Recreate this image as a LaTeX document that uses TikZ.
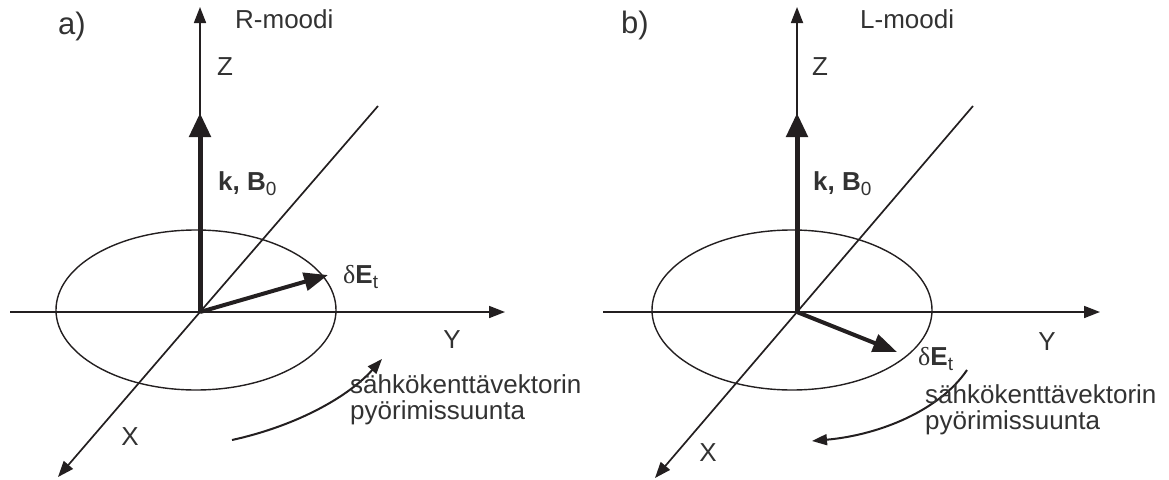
\documentclass[tikz,border=0pt]{standalone}
\usepackage{fontspec}
\setmainfont{Liberation Sans}
\newfontfamily\deltafont{Liberation Serif}
\usetikzlibrary{arrows.meta}
\definecolor{ink}{RGB}{35,31,32}
\definecolor{txt}{RGB}{50,50,50}
\begin{document}
\begin{tikzpicture}[x=1pt,y=-1pt,
  axis/.style={draw=ink,line width=1.7pt,-{Triangle[length=16pt,width=12pt]}},
  plainaxis/.style={draw=ink,line width=1.7pt},
  thickvec/.style={draw=ink,line width=5pt,-{Triangle[length=24pt,width=21pt]}},
  evec/.style={draw=ink,line width=4pt,-{Triangle[length=24pt,width=18pt]}},
  rotarrow/.style={draw=ink,line width=2pt,-{Triangle[length=15pt,width=11pt]}},
  ellip/.style={draw=ink,line width=1.4pt},
  lbl/.style={text=txt,inner sep=0pt,font=\fontsize{26}{27}\selectfont},
  panel/.style={text=txt,inner sep=0pt,font=\fontsize{31}{31}\selectfont},
  note/.style={text=txt,inner sep=0pt,align=left,anchor=base west,font=\fontsize{26}{26}\selectfont},
]
\useasboundingbox (0,0) rectangle (1169,479);

% ---------------- panel a ----------------
\coordinate (Oa) at (200,312);
\coordinate (Za) at (200,7);
\coordinate (Ka) at (200,113);
\coordinate (YLa) at (10,312);
\coordinate (YRa) at (505,312);
\coordinate (XTa) at (378,106);
\coordinate (XBa) at (58,477);
\coordinate (Ea) at (328,275);
\coordinate (Ca) at (196,310);
\coordinate (RSa) at (232,440);
\coordinate (REa) at (382,359);

\draw[ellip] (Ca) ellipse [x radius=140, y radius=80];
\draw[axis] (Oa) -- (Za);
\draw[axis] (YLa) -- (YRa);
\draw[plainaxis] (XTa) -- (Oa);
\draw[axis] (Oa) -- (XBa);
\draw[thickvec] (Oa) -- (Ka);
\draw[evec] (Oa) -- (Ea);
\draw[rotarrow] (RSa) .. controls (300,425) and (350,395) .. (REa);

\node[panel,anchor=base west] (pa) at (58,34) {a)};
\node[lbl,anchor=base west] (ma) at (235,28) {R-moodi};
\node[lbl] (za) at (225,67) {Z};
\node[lbl] (ya) at (452,340) {Y};
\node[lbl] (xa) at (130,437) {X};
\node[lbl,anchor=base west] (ka) at (218,190) {\textbf{k, B}\raisebox{-0.22em}{\fontsize{19}{19}\selectfont 0}};
\node[lbl,anchor=base west] (ea) at (343,283) {{\deltafont δ}\textbf{E}\raisebox{-0.22em}{\fontsize{19}{19}\selectfont t}};
\node[note] (ta) at (350,419) {sähkökenttävektorin\\[0pt]pyörimissuunta};

% ---------------- panel b ----------------
\coordinate (Ob) at (797,312);
\coordinate (Zb) at (797,7);
\coordinate (Kb) at (797,113);
\coordinate (YLb) at (603,312);
\coordinate (YRb) at (1100,312);
\coordinate (XTb) at (973,106);
\coordinate (XBb) at (655,478);
\coordinate (Eb) at (897,352);
\coordinate (Cb) at (792,310);
\coordinate (RSb) at (967,370);
\coordinate (REb) at (812,441);

\draw[ellip] (Cb) ellipse [x radius=140, y radius=80];
\draw[axis] (Ob) -- (Zb);
\draw[axis] (YLb) -- (YRb);
\draw[plainaxis] (XTb) -- (Ob);
\draw[axis] (Ob) -- (XBb);
\draw[thickvec] (Ob) -- (Kb);
\draw[evec] (Ob) -- (Eb);
\draw[rotarrow] (RSb) .. controls (940,410) and (880,435) .. (REb);

\node[panel,anchor=base west] (pb) at (621,33) {b)};
\node[lbl,anchor=base west] (mb) at (860,28) {L-moodi};
\node[lbl] (zb) at (820,67) {Z};
\node[lbl] (yb) at (1047,342) {Y};
\node[lbl] (xb) at (708,453) {X};
\node[lbl,anchor=base west] (kb) at (813,190) {\textbf{k, B}\raisebox{-0.22em}{\fontsize{19}{19}\selectfont 0}};
\node[lbl,anchor=base west] (eb) at (918,365) {{\deltafont δ}\textbf{E}\raisebox{-0.22em}{\fontsize{19}{19}\selectfont t}};
\node[note] (tb) at (925,429) {sähkökenttävektorin\\[0pt]pyörimissuunta};
\end{tikzpicture}
\end{document}
